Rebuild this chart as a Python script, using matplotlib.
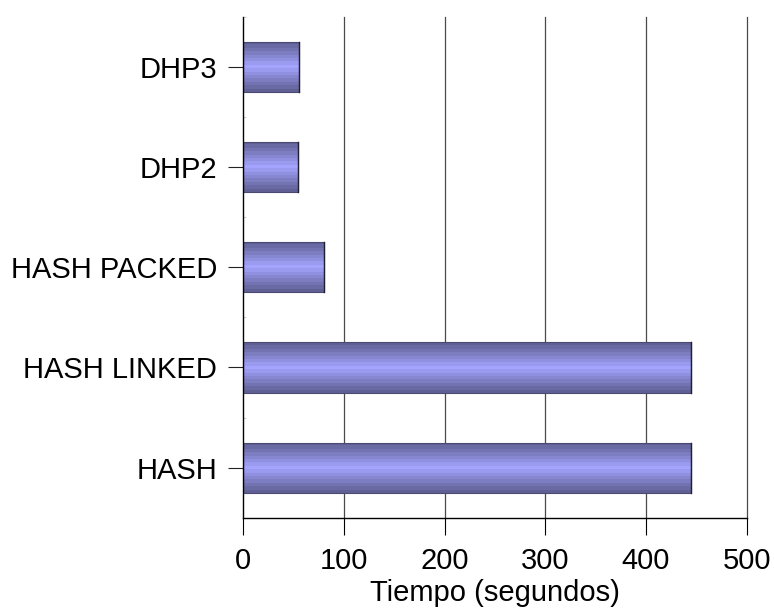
import numpy as np
import matplotlib
matplotlib.use("Agg")
import matplotlib.pyplot as plt
from matplotlib.colors import ListedColormap

categories = ["HASH", "HASH LINKED", "HASH PACKED", "DHP2", "DHP3"]
tiempos = [445, 445, 80, 54, 55]
xticks = [0, 100, 200, 300, 400, 500]
xlabel = "Tiempo (segundos)"

plt.rcParams["font.family"] = ["Liberation Sans", "DejaVu Sans"]
FS = 21

fig = plt.figure(figsize=(7.74, 6.15), dpi=100)
ax = fig.add_axes([243.3 / 774, (615 - 517.7) / 615, (746.7 - 243.3) / 774, (517.7 - 17) / 615])

ypos = np.arange(len(categories))
bar_h = 0.5

# banded vertical shading for the bars: dark edges, light centre
n_bands = 15
t = np.abs(np.linspace(-1, 1, n_bands))
edge = np.array([96, 96, 148]) / 255
centre = np.array([164, 164, 255]) / 255
band_colors = centre[None, :] * (1 - t[:, None]) + edge[None, :] * t[:, None]
cmap = ListedColormap(band_colors)
grad = np.linspace(0, 1, n_bands).reshape(-1, 1)

bars = ax.barh(ypos, tiempos, height=bar_h, color="none",
               edgecolor="#4a4a72", linewidth=0.8, zorder=4)
for rect in bars:
    x0, y0 = rect.get_x(), rect.get_y()
    w, h = rect.get_width(), rect.get_height()
    im = ax.imshow(grad, cmap=cmap, aspect="auto", interpolation="nearest",
                   extent=[x0, x0 + w, y0, y0 + h], origin="lower", zorder=3)
    im.set_clip_path(rect)
    # darker closing edge on the bar end
    ax.plot([x0 + w, x0 + w], [y0, y0 + h], color="#202030", linewidth=1.0, zorder=5)

ax.set_xlim(0, 500)
ax.set_ylim(-0.5, 4.5)

ax.set_xticks(xticks)
ax.set_xticklabels([str(v) for v in xticks], fontsize=FS)
ax.set_yticks(ypos)
ax.set_yticklabels(categories, fontsize=FS)
ax.set_yticks(np.arange(-0.5, 4.6, 1.0), minor=True)

ax.tick_params(axis="x", direction="out", length=12, width=0.8, pad=9, color="black")
ax.tick_params(axis="y", which="major", direction="out", length=11, width=0.8, pad=8, color="#222222")
ax.tick_params(axis="y", which="minor", direction="in", length=2, width=0.8, color="#cccccc")

ax.set_xlabel(xlabel, fontsize=FS, labelpad=3)

for v in xticks[1:]:
    ax.axvline(v, color="#4a4a4a", linewidth=0.9, zorder=1, clip_on=False)

for side in ["top", "right"]:
    ax.spines[side].set_visible(False)
ax.spines["left"].set_linewidth(1.0)
ax.spines["bottom"].set_linewidth(1.0)
ax.spines["left"].set_zorder(5)

ax.set_xlim(0, 500)
ax.set_ylim(-0.5, 4.5)

fig.savefig("out.png", dpi=100)
